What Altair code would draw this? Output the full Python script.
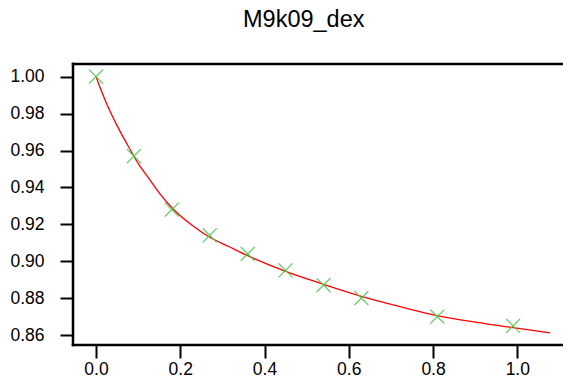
import altair as alt
import pandas as pd

# measured points
pt_x = [0.0, 0.09, 0.18, 0.27, 0.36, 0.45, 0.54, 0.63, 0.81, 0.99]
pt_y = [1.000, 0.957, 0.928, 0.914, 0.904, 0.895, 0.887, 0.880, 0.870, 0.865]

# fitted curve
fit_x = [0.0, 0.025, 0.05, 0.075, 0.10, 0.125, 0.15, 0.18, 0.225, 0.27, 0.315, 0.36,
         0.45, 0.54, 0.63, 0.72, 0.81, 0.90, 0.99, 1.078]
fit_y = [1.000, 0.9855, 0.9735, 0.963, 0.953, 0.945, 0.937, 0.929, 0.920, 0.913,
         0.908, 0.903, 0.8945, 0.8875, 0.8810, 0.8755, 0.8705, 0.8670, 0.8640, 0.8612]

x_ticks = [0.0, 0.2, 0.4, 0.6, 0.8, 1.0]
y_ticks = [0.86, 0.88, 0.90, 0.92, 0.94, 0.96, 0.98, 1.00]

pts = pd.DataFrame({"x": pt_x, "y": pt_y})
fit = pd.DataFrame({"x": fit_x, "y": fit_y})
one = pd.DataFrame({"k": [0]})

FONT = "Liberation Sans"
W, H = 490, 281

xs = alt.Scale(domain=[-0.0546, 1.1085], nice=False, zero=False)
ys = alt.Scale(domain=[0.8546, 1.0069], nice=False, zero=False)

xax = alt.Axis(values=x_ticks, format=".1f", title=None, grid=False, domain=False,
               tickColor="black", tickWidth=2, tickSize=13, labelFont=FONT,
               labelFontSize=17.5, labelColor="black", labelPadding=2)
yax = alt.Axis(values=y_ticks, format=".2f", title=None, grid=False, domain=False,
               tickColor="black", tickWidth=2, tickSize=13, labelFont=FONT,
               labelFontSize=17.5, labelColor="black", labelPadding=16)

line = alt.Chart(fit).mark_line(color="#ff0000", strokeWidth=1.3, interpolate="monotone").encode(
    x=alt.X("x:Q", scale=xs, axis=xax),
    y=alt.Y("y:Q", scale=ys, axis=yax),
)

marks = alt.Chart(pts).mark_point(
    shape="M-1,-1L1,1M-1,1L1,-1", size=196, filled=False, color="#4ccc4c", strokeWidth=1.1, opacity=1
).encode(
    x=alt.X("x:Q", scale=xs),
    y=alt.Y("y:Q", scale=ys),
)

frame_style = dict(color="black", strokeWidth=2.5, strokeCap="square")
top = alt.Chart(one).mark_rule(**frame_style).encode(
    x=alt.value(0), x2=alt.value(W + 10), y=alt.value(0))
bottom = alt.Chart(one).mark_rule(**frame_style).encode(
    x=alt.value(0), x2=alt.value(W + 10), y=alt.value(H))
left = alt.Chart(one).mark_rule(**frame_style).encode(
    x=alt.value(0), y=alt.value(0), y2=alt.value(H))

chart = alt.layer(line, marks, top, bottom, left).properties(
    width=W,
    height=H,
    background="white",
    title=alt.TitleParams("M9k09_dex", font=FONT, fontSize=23.5, fontWeight="normal",
                          color="black", anchor="start", frame="group", dx=170, offset=31),
    autosize=alt.AutoSizeParams(type="none"),
    padding={"left": 65, "top": 56, "right": 0, "bottom": 38},
).configure_view(stroke=None)

chart.save("out.html", embed_options={"renderer": "svg", "actions": False})
